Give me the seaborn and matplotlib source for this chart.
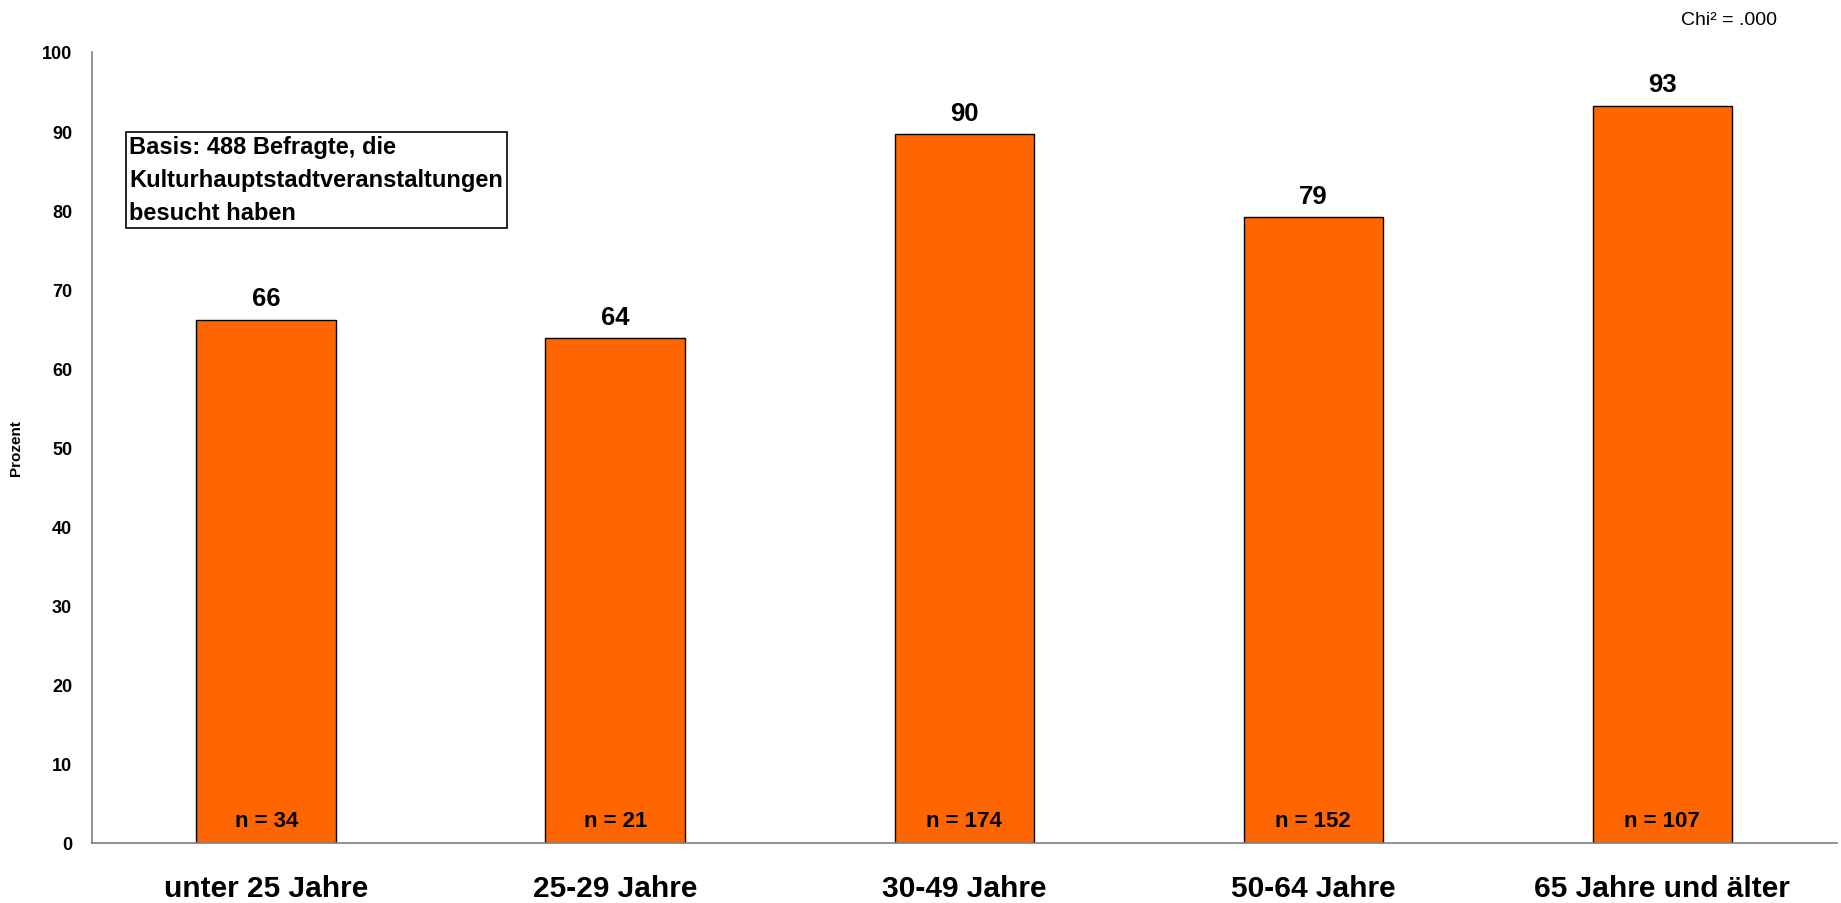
import numpy as np
import pandas as pd
import matplotlib
matplotlib.use("Agg")
import matplotlib.pyplot as plt
import seaborn as sns

sns.set_style('white')
plt.rcParams['font.family'] = ['Liberation Sans', 'DejaVu Sans']
plt.rcParams['text.color'] = 'black'
plt.rcParams['axes.labelcolor'] = 'black'

# data
categories = ["unter 25 Jahre", "25-29 Jahre", "30-49 Jahre", "50-64 Jahre", "65 Jahre und älter"]
percent = [66.1, 63.8, 89.6, 79.1, 93.2]
value_labels = ["66", "64", "90", "79", "93"]
n_sizes = [34, 21, 174, 152, 107]
yticks = [0, 10, 20, 30, 40, 50, 60, 70, 80, 90, 100]

df = pd.DataFrame({"group": categories, "pct": percent})

fig = plt.figure(figsize=(18.41, 9.04), dpi=100)
ax = fig.add_axes([0.0498, 0.0664, 0.948, 0.875])

sns.barplot(data=df, x="group", y="pct", color="#FF6600", width=0.4,
            edgecolor="black", linewidth=1.0, saturation=1, ax=ax)

ax.bar_label(ax.containers[0], labels=value_labels, padding=7,
             fontsize=18.5, fontweight='bold', color='black')
for i, n in enumerate(n_sizes):
    ax.text(i, 2.9, f"n = {n}", ha='center', va='center',
            fontsize=16, fontweight='bold', color='black')

ax.set_xlim(-0.5, len(categories) - 0.5)
ax.set_ylim(0, 100)
ax.set_yticks(yticks)
ax.set_yticklabels([str(t) for t in yticks], fontsize=13, fontweight='bold')
ax.set_xticks(range(len(categories)))
ax.set_xticklabels(categories, fontsize=21.5, fontweight='bold')
ax.set_xticks(np.arange(-0.5, len(categories)), minor=True)
ax.tick_params(axis='x', which='major', length=0, pad=22, labelcolor='black')
ax.tick_params(axis='x', which='minor', length=8, width=1.2, color='#808080', direction='out')
ax.tick_params(axis='y', length=7, width=1.2, color='#808080', direction='out', pad=7,
               labelcolor='black')
ax.set_xlabel("")
ax.set_ylabel("Prozent", fontsize=11, fontweight='bold', labelpad=14)

for side in ['top', 'right']:
    ax.spines[side].set_visible(False)
for side in ['left', 'bottom']:
    ax.spines[side].set_color('#808080')
    ax.spines[side].set_linewidth(1.2)

ax.text(0.0215, 0.8947, "Basis: 488 Befragte, die\nKulturhauptstadtveranstaltungen\nbesucht haben",
        transform=ax.transAxes, ha='left', va='top', fontsize=17, fontweight='bold',
        linespacing=1.55,
        bbox=dict(boxstyle='square,pad=0.15', facecolor='white', edgecolor='black', linewidth=1.2))

fig.text(0.965, 0.977, "Chi² = .000", ha='right', va='center', fontsize=14)

fig.savefig("out.png", dpi=100)
